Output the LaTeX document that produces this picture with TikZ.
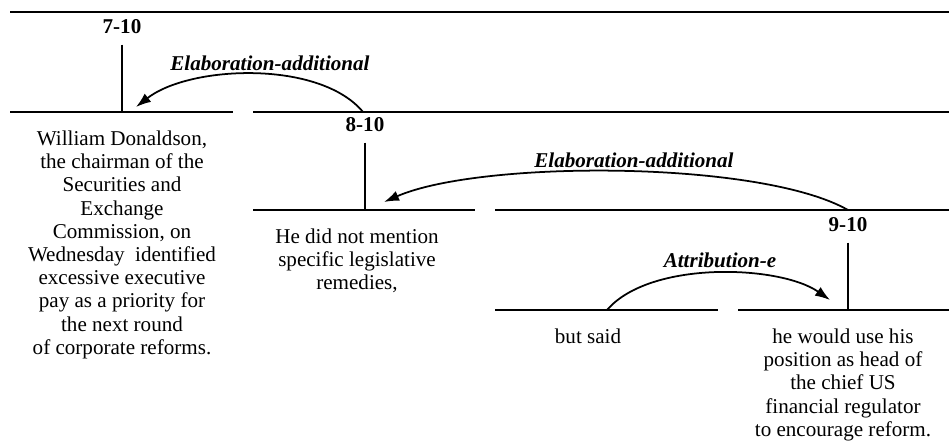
\documentclass[tikz,border=0pt]{standalone}
\usepackage{fontspec}
\setmainfont{Liberation Serif}
\usetikzlibrary{arrows.meta}

\begin{document}
\begin{tikzpicture}[x=0.02cm, y=-0.02cm, line width=1pt,
    every node/.style={inner sep=0pt, font=\fontsize{12}{13.2}\selectfont},
    span/.style={align=center, anchor=north},
    num/.style={font=\fontsize{12}{13.2}\selectfont\bfseries, outer sep=6pt},
    rel/.style={font=\fontsize{12}{13.2}\selectfont\bfseries\itshape},
    relarrow/.style={-{Latex[length=3mm,width=2.1mm]}}]
          \useasboundingbox (0,0) rectangle (949,445);

          % horizontal rules of the tree
          \draw (10,12) -- (949,12);
          \draw (10,112) -- (233,112);
          \draw (253,112) -- (949,112);
          \draw (253,210) -- (475,210);
          \draw (495,210) -- (949,210);
          \draw (495,310) -- (718,310);
          \draw (738,310) -- (949,310);

          \node [num] (n710) at (122,27) {7-10};
          \node [num] (n810) at (365,125) {8-10};
          \node [num] (n910) at (848,225) {9-10};
          \coordinate (foot7) at (122,112);
          \coordinate (foot8) at (365,210);
          \coordinate (foot9) at (848,310);
          \draw (n710) -- (foot7);
          \draw (n810) -- (foot8);
          \draw (n910) -- (foot9);

          \node [span] (seg7) at (122,130) {William Donaldson,\\ the chairman of the\\ Securities and\\ Exchange\\ Commission, on\\ Wednesday~ identified\\ excessive executive\\ pay as a priority for\\ the next round\\ of corporate reforms.};
          \node [span] (seg8) at (357,228) {He did not mention\\ specific legislative\\ remedies,};
          \node [span] (seg9) at (588,328) {but said};
          \node [span] (seg10) at (843,328) {he would use his\\ position as head of\\ the chief US\\ financial regulator\\ to encourage reform.};

          \node [rel] (elab1) at (270,63) {Elaboration-additional};
          \node [rel] (elab2) at (634,160) {Elaboration-additional};
          \node [rel] (attr) at (720,260) {Attribution-e};

          \coordinate (from8) at (363,112);
          \coordinate (to7) at (136,107);
          \coordinate (from9) at (848,210);
          \coordinate (to8) at (384,202);
          \coordinate (fromsaid) at (607,310);
          \coordinate (tohe) at (830,300);
          \draw [relarrow] (from8) .. controls (320,60) and (190,65) .. (to7);
          \draw [relarrow] (from9) .. controls (760,160) and (480,160) .. (to8);
          \draw [relarrow] (fromsaid) .. controls (650,260) and (780,265) .. (tohe);
        \end{tikzpicture}
\end{document}
